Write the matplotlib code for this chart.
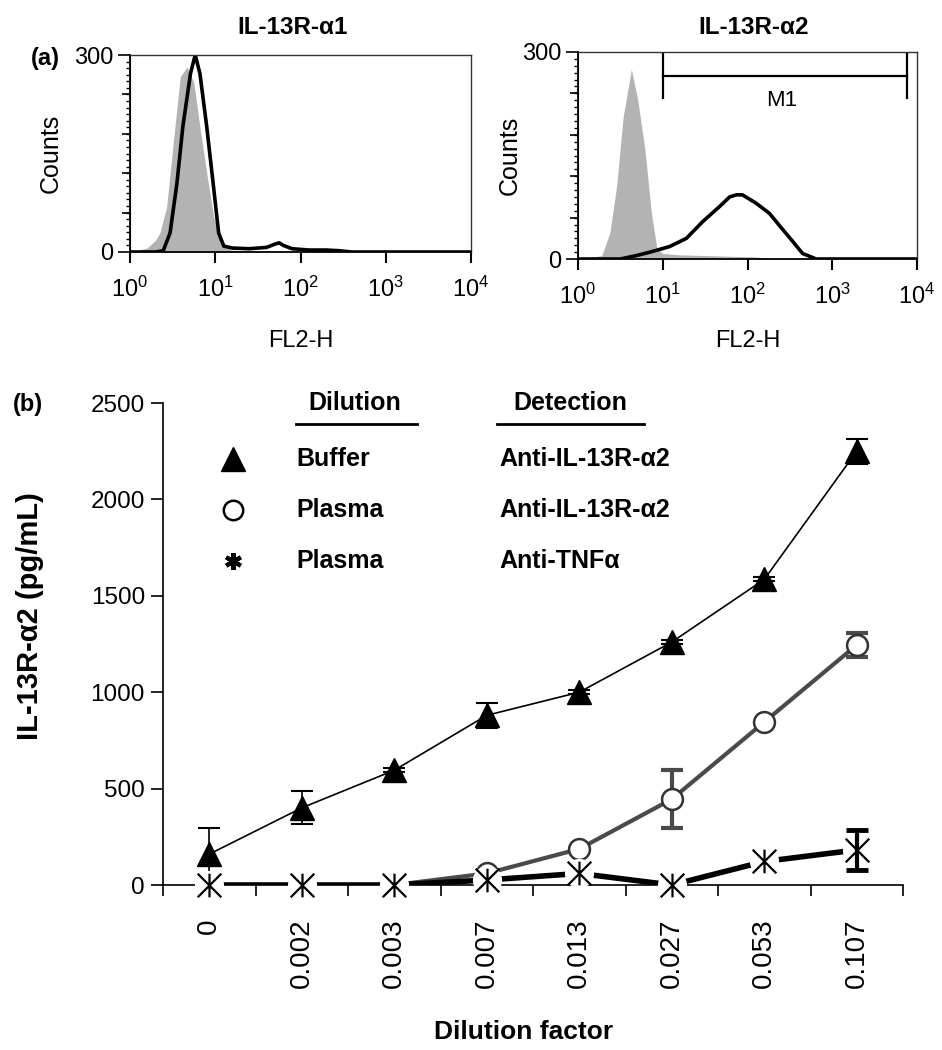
import numpy as np
import matplotlib.pyplot as plt
from matplotlib.path import Path

plt.rcParams['font.family'] = ['Liberation Sans', 'DejaVu Sans']
plt.rcParams['mathtext.default'] = 'regular'

# (a) flow cytometry histograms (log10 channel, counts)
left_iso_log = [0.0, 0.1, 0.2, 0.3, 0.35, 0.43, 0.51, 0.59, 0.67, 0.75, 0.82, 0.9, 0.98, 1.06, 1.18, 1.3, 1.5, 1.8, 2.0]
left_iso_cnt = [0, 3, 6, 18, 29, 69, 170, 267, 282, 257, 190, 120, 55, 18, 3, 2, 1, 0, 0]
left_stain_log = [0.0, 0.3, 0.39, 0.47, 0.55, 0.62, 0.71, 0.765, 0.82, 0.9, 0.98, 1.04, 1.1, 1.2,
                  1.4, 1.6, 1.7, 1.75, 1.8, 1.9, 2.1, 2.3, 2.45, 2.6, 3.0, 4.0]
left_stain_cnt = [0, 0, 2, 29, 104, 191, 272, 300, 272, 191, 99, 29, 9, 6,
                  5, 7, 12, 14, 10, 5, 3, 3, 2, 0, 0, 0]

right_iso_log = [0.0, 0.15, 0.28, 0.376, 0.455, 0.533, 0.63, 0.706, 0.79, 0.867, 0.93, 1.0, 1.2, 1.5, 1.8, 2.1, 2.3, 3.0]
right_iso_cnt = [0, 2, 5, 38, 105, 206, 275, 230, 158, 66, 16, 8, 6, 5, 4, 3, 0, 0]
right_stain_log = [0.0, 0.5, 0.69, 0.85, 1.08, 1.28, 1.47, 1.67, 1.79, 1.87, 1.94, 2.1, 2.26,
                   2.38, 2.53, 2.65, 2.81, 3.0, 4.0]
right_stain_cnt = [0, 0, 5, 10, 18, 30, 54, 76, 90, 93, 93, 81, 66, 48, 26, 8, 0, 0, 0]

m1_range = [10, 7600]
m1_level = 265

# (b) ELISA dilution curve
dilution_labels = ['0', '0.002', '0.003', '0.007', '0.013', '0.027', '0.053', '0.107']
buffer_vals = [160, 400, 595, 880, 1000, 1260, 1585, 2250]
buffer_err = [135, 85, 10, 65, 10, 10, 10, 65]
plasma_vals = [0, 0, 0, 60, 187, 445, 845, 1245]
plasma_err = [0, 0, 0, 0, 0, 150, 0, 60]
tnf_vals = [0, 0, 0, 26, 60, 0, 122, 182]
tnf_err = [0, 0, 0, 0, 0, 0, 0, 105]

legend_dilution = ['Buffer', 'Plasma', 'Plasma']
legend_detection = ['Anti-IL-13R-α2', 'Anti-IL-13R-α2', 'Anti-TNFα']

# asterisk: vertical bar plus 45 degree cross
star = Path([(0, -1), (0, 1), (-1, -1), (1, 1), (-1, 1), (1, -1)],
            [Path.MOVETO, Path.LINETO] * 3)

fig = plt.figure(figsize=(9.42, 10.5), dpi=100)
ax1 = fig.add_axes([130/942, 1 - 252/1050, 341/942, 197/1050])
ax2 = fig.add_axes([578/942, 1 - 259/1050, 339/942, 207/1050])
axb = fig.add_axes([163/942, 1 - 885/1050, 740/942, 482/1050])


def style_hist(ax, xpad, ypad):
    ax.set_xscale('log')
    ax.set_xlim(1, 1e4)
    ax.set_ylim(0, 300)
    ax.set_yticks([0, 300])
    ax.set_yticks(np.arange(0, 301, 10), minor=True)
    ax.set_xticks([1, 10, 100, 1000, 10000])
    ax.tick_params(axis='y', which='major', length=9, width=1.2, labelsize=17, pad=3)
    ax.tick_params(axis='y', which='minor', length=3, width=1)
    ax.tick_params(axis='x', which='major', length=8, width=1.5, labelsize=17, pad=10)
    ax.tick_params(axis='x', which='minor', length=4, width=1)
    sec = ax.secondary_yaxis('left')
    sec.set_yticks([60, 120, 180, 240])
    sec.tick_params(length=6, width=1.2, labelleft=False)
    for s in ['left', 'bottom']:
        ax.spines[s].set_linewidth(1.3)
    for s in ['top', 'right']:
        ax.spines[s].set_linewidth(1.0)
        ax.spines[s].set_color('#333333')
    ax.set_xlabel('FL2-H', fontsize=17, labelpad=xpad)
    ax.set_ylabel('Counts', fontsize=18, labelpad=ypad)


hist_data = [(left_iso_log, left_iso_cnt, left_stain_log, left_stain_cnt),
             (right_iso_log, right_iso_cnt, right_stain_log, right_stain_cnt)]
for ax, (il, ic, sl, sc), xpad, ypad in zip([ax1, ax2], hist_data, [20, 15], [8, 0]):
    ax.fill_between(10 ** np.array(il), ic, color='#b3b3b3', lw=0)
    ax.plot(10 ** np.array(sl), sc, color='black', lw=2.6)
    style_hist(ax, xpad, ypad)

ax2.plot(m1_range, [m1_level, m1_level], color='black', lw=1.6)
for xv in m1_range:
    ax2.plot([xv, xv], [m1_level - 32, m1_level + 32], color='black', lw=1.6)
ax2.text(10 ** 2.4, 230, 'M1', fontsize=16, ha='center', va='center')

fig.text(293/942, 1 - 28/1050, 'IL-13R-α1', fontsize=17.5, fontweight='bold', ha='center', va='center')
fig.text(754/942, 1 - 27/1050, 'IL-13R-α2', fontsize=17.5, fontweight='bold', ha='center', va='center')
fig.text(45/942, 1 - 58/1050, '(a)', fontsize=17, fontweight='bold', ha='center', va='center')
fig.text(28/942, 1 - 405/1050, '(b)', fontsize=17, fontweight='bold', ha='center', va='center')

# (b)
x = np.arange(len(dilution_labels))
axb.plot(x, buffer_vals, color='black', lw=1.2, zorder=2)
axb.errorbar(x, buffer_vals, yerr=buffer_err, fmt='none', ecolor='black', elinewidth=1.2,
             capsize=8, capthick=1.5, zorder=2)
axb.plot(x, buffer_vals, ls='none', marker='^', ms=17, color='black', zorder=6, clip_on=False)

axb.plot(x, plasma_vals, color='#4a4a4a', lw=3, zorder=2)
pe = [e if e > 0 else np.nan for e in plasma_err]
axb.errorbar(x, plasma_vals, yerr=pe, fmt='none', ecolor='#4a4a4a', elinewidth=3,
             capsize=8, capthick=3, zorder=2)
axb.plot(x, plasma_vals, ls='none', marker='o', ms=15, mfc='white', mec='#333333', mew=1.8,
         zorder=3, clip_on=False)

axb.plot(x, tnf_vals, color='black', lw=4, zorder=3)
axb.plot(x, tnf_vals, ls='none', marker='o', ms=21, mfc='white', mec='none', zorder=4, clip_on=False)
te = [e if e > 0 else np.nan for e in tnf_err]
axb.errorbar(x, tnf_vals, yerr=te, fmt='none', ecolor='black', elinewidth=3,
             capsize=8, capthick=3.5, zorder=5)
axb.plot(x, tnf_vals, ls='none', marker=star, ms=17, mfc='none', mec='black', mew=1.6,
         zorder=5, clip_on=False)

axb.set_xlim(-0.5, 7.5)
axb.set_ylim(0, 2500)
axb.set_xticks(x)
axb.set_xticklabels(dilution_labels, rotation=90, fontsize=20)
axb.set_xticks(np.arange(-0.5, 8, 1), minor=True)
axb.tick_params(axis='x', which='major', length=0, pad=24)
axb.tick_params(axis='x', which='minor', length=8, width=1.2)
axb.set_yticks(np.arange(0, 2501, 500))
axb.tick_params(axis='y', length=9, width=1.2, labelsize=17.5, pad=4)
axb.spines['top'].set_visible(False)
axb.spines['right'].set_visible(False)
axb.spines['left'].set_linewidth(1.2)
axb.spines['bottom'].set_linewidth(1.2)

fig.text(30/942, 1 - 616/1050, 'IL-13R-α2 (pg/mL)', fontsize=21, fontweight='bold',
         rotation=90, ha='center', va='center')
fig.text(524/942, 1 - 1032/1050, 'Dilution factor', fontsize=19, fontweight='bold',
         ha='center', va='center')

# legend table
tr = axb.transAxes
axb.text(0.259, 1.0, 'Dilution', transform=tr, fontsize=18, fontweight='bold', ha='center', va='center')
axb.text(0.550, 1.0, 'Detection', transform=tr, fontsize=18, fontweight='bold', ha='center', va='center')
axb.plot([0.180, 0.343], [0.956, 0.956], transform=tr, color='black', lw=2, clip_on=False)
axb.plot([0.451, 0.650], [0.956, 0.956], transform=tr, color='black', lw=2, clip_on=False)
rows = [0.884, 0.778, 0.672]
axb.plot(0.095, rows[0], transform=tr, marker='^', ms=17, color='black', clip_on=False)
axb.plot(0.095, rows[1], transform=tr, marker='o', ms=14, mfc='white', mec='black', mew=1.8, clip_on=False)
axb.plot(0.095, rows[2], transform=tr, marker=(6, 2, 0), ms=12, color='black', mew=3, clip_on=False)
for ry, dl, dt in zip(rows, legend_dilution, legend_detection):
    axb.text(0.180, ry, dl, transform=tr, fontsize=18, fontweight='bold', ha='left', va='center')
    axb.text(0.455, ry, dt, transform=tr, fontsize=18, fontweight='bold', ha='left', va='center')

fig.savefig('out.png', dpi=100)
